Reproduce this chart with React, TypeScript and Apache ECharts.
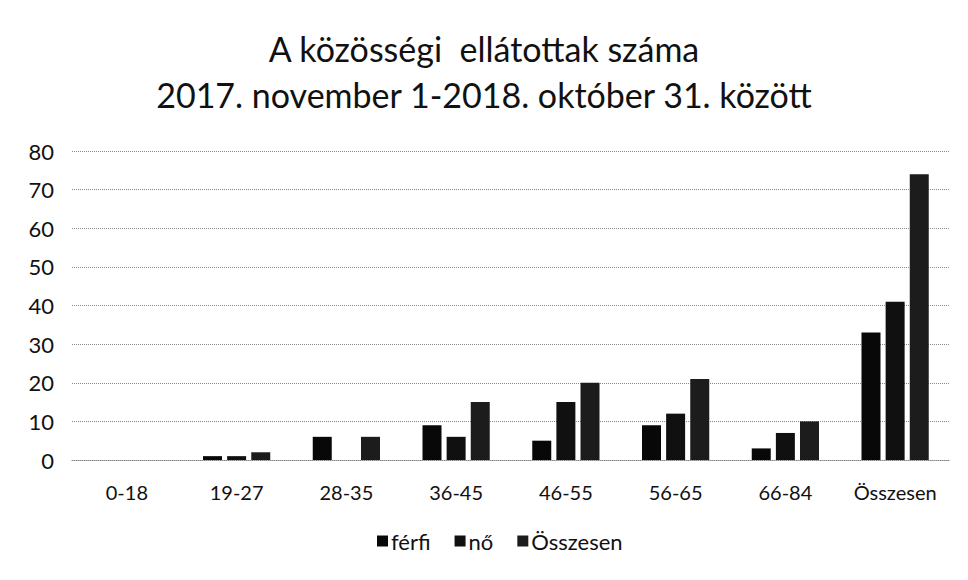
import React, { useEffect, useRef } from "react";
import * as echarts from "echarts";

const categories = ["0-18", "19-27", "28-35", "36-45", "46-55", "56-65", "66-84", "Összesen"];
const ferfi = [0, 1, 6, 9, 5, 9, 3, 33];
const no = [0, 1, 0, 6, 15, 12, 7, 41];
const osszesen = [0, 2, 6, 15, 20, 21, 10, 74];
const yTicks = { min: 0, max: 80, interval: 10 };
const titleLines = ["A közösségi  ellátottak száma", "2017. november 1-2018. október 31. között"];
const seriesNames = ["férfi", "nő", "Összesen"];

const FONT = "Lato, 'Open Sans', sans-serif";

export default function App() {
  const ref = useRef<HTMLDivElement>(null);
  useEffect(() => {
    if (!ref.current) return;
    const chart = echarts.init(ref.current, undefined, { renderer: "svg" });
    const colors = ["#080808", "#101010", "#1c1c1c"];
    const data = [ferfi, no, osszesen];
    chart.setOption({
      animation: false,
      backgroundColor: "#ffffff",
      textStyle: { fontFamily: FONT },
      title: {
        text: titleLines.join("\n"),
        left: "center",
        top: 20,
        textStyle: {
          fontFamily: FONT,
          fontSize: 34,
          fontWeight: "normal",
          color: "#111",
          lineHeight: 46,
        },
      },
      legend: {
        data: seriesNames,
        bottom: 23,
        left: 372,
        itemWidth: 11,
        itemHeight: 11,
        itemGap: 24,
        icon: "rect",
        textStyle: { fontFamily: FONT, fontSize: 22, color: "#111", padding: [0, 0, 0, -2] },
      },
      grid: { left: 72, right: 18, top: 151, bottom: 120, containLabel: false },
      xAxis: {
        type: "category",
        data: categories,
        axisLine: { show: true, lineStyle: { color: "#888", type: "dotted", width: 1 } },
        axisTick: { show: false },
        axisLabel: { fontFamily: FONT, fontSize: 20, color: "#111", margin: 22, interval: 0 },
      },
      yAxis: {
        type: "value",
        min: yTicks.min,
        max: yTicks.max,
        interval: yTicks.interval,
        axisLine: { show: false },
        axisTick: { show: false },
        axisLabel: { fontFamily: FONT, fontSize: 22, color: "#111", margin: 18 },
        splitLine: { show: true, lineStyle: { color: "#888", type: "dotted", width: 1 } },
      },
      series: seriesNames.map((name, i) => ({
        name,
        type: "bar",
        data: data[i],
        barWidth: 19,
        barGap: "27%",
        itemStyle: { color: colors[i] },
      })),
      graphic: [
        { type: "line", shape: { x1: 0, y1: 3, x2: 968, y2: 3 }, style: { stroke: "#999", lineDash: [2, 3], lineWidth: 1 } },
        { type: "line", shape: { x1: 3, y1: 0, x2: 3, y2: 580 }, style: { stroke: "#999", lineDash: [2, 3], lineWidth: 1 } },
      ],
    });
    return () => chart.dispose();
  }, []);
  return <div ref={ref} style={{ width: 968, height: 580, margin: -8 }} />;
}
